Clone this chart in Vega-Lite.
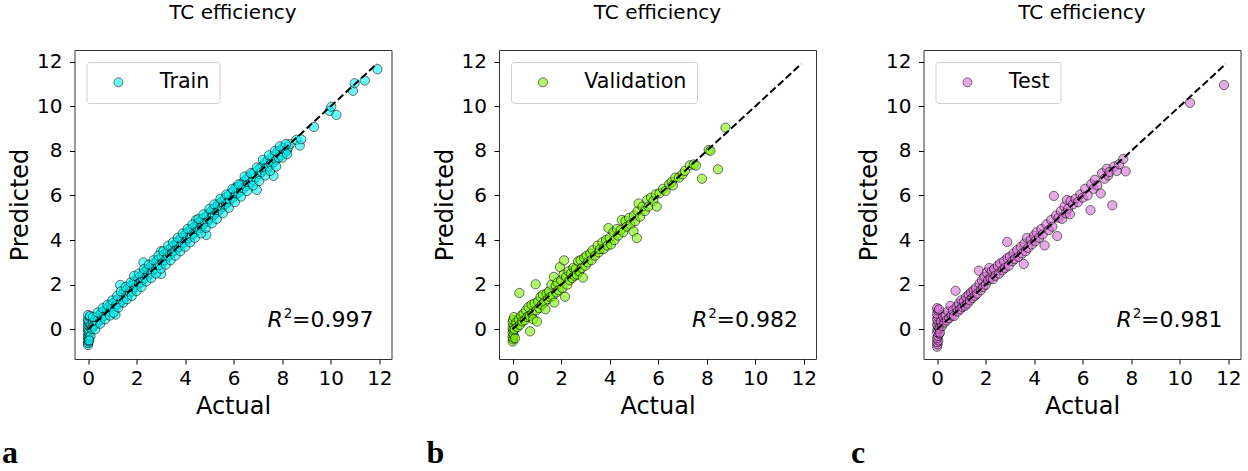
{
"$schema": "https://vega.github.io/schema/vega-lite/v6.json",
"background": "white",
"padding": {"left": 0.5, "top": 2, "right": 0, "bottom": 0},
"spacing": 31.5,
"config": {
  "font": "DejaVu Sans",
  "view": {"stroke": "#333333", "strokeWidth": 1},
  "axis": {"grid": false, "domain": false, "tickColor": "black", "tickSize": 5, "tickWidth": 1, "labelFont": "DejaVu Sans", "labelFontSize": 20, "labelColor": "black", "labelPadding": 4, "titleFont": "DejaVu Sans", "titleFontSize": 24, "titleFontWeight": "normal", "titleColor": "black", "labelFlush": false, "labelOverlap": false},
  "axisX": {"titlePadding": 6},
  "axisY": {"titlePadding": 4, "labelPadding": 7.5},
  "title": {"font": "DejaVu Sans", "fontSize": 20, "fontWeight": "normal", "color": "black", "offset": 27},
  "legend": {"orient": "top-left", "offset": 12, "padding": 10, "strokeColor": "#d0d0d0", "cornerRadius": 3, "fillColor": "white", "labelFont": "DejaVu Sans", "labelFontSize": 20.7, "labelColor": "black", "symbolSize": 80, "symbolOpacity": 0.6, "symbolStrokeColor": "black", "symbolStrokeWidth": 1, "symbolType": "circle", "symbolOffset": 11.6, "labelOffset": 31, "title": null}
},
"resolve": {"scale": {"color": "independent"}, "legend": {"color": "independent"}},
"datasets": {
"diag": [{"a": 0, "p": 0}, {"a": 11.9, "p": 11.9}],
"train": [
{"a":0,"p":-0.7},{"a":0,"p":-0.62},{"a":0.02,"p":-0.55},{"a":0,"p":-0.48},{"a":0.03,"p":-0.4},{"a":0,"p":-0.33},{"a":0.01,"p":-0.25},{"a":0.04,"p":-0.18},{"a":0,"p":-0.1},{"a":0.02,"p":-0.04},{"a":0,"p":0.05},{"a":0.05,"p":0.12},{"a":0,"p":0.2},{"a":0.03,"p":0.28},{"a":0.01,"p":0.36},{"a":0,"p":0.45},{"a":0.06,"p":0.55},{"a":0,"p":0.64},{"a":0.08,"p":0.6},{"a":0.1,"p":-0.3},{"a":0.05,"p":-0.5},
{"a":0.12,"p":0.18},{"a":0.15,"p":0.02},{"a":0.2,"p":0.35},{"a":0.22,"p":0.15},{"a":0.28,"p":0.4},{"a":0.3,"p":0.22},{"a":0.35,"p":0.55},{"a":0.38,"p":0.3},{"a":0.42,"p":0.48},{"a":0.45,"p":0.62},{"a":0.5,"p":0.42},{"a":0.52,"p":0.7},{"a":0.58,"p":0.55},{"a":0.6,"p":0.78},{"a":0.65,"p":0.6},{"a":0.7,"p":0.85},{"a":0.72,"p":0.66},{"a":0.78,"p":0.9},{"a":0.8,"p":0.72},{"a":0.85,"p":1.02},{"a":0.88,"p":0.8},{"a":0.92,"p":1.1},{"a":0.95,"p":0.9},{"a":1.0,"p":1.15},{"a":1.02,"p":0.95},{"a":1.08,"p":1.22},{"a":1.1,"p":1.02},{"a":1.13,"p":0.66},{"a":1.18,"p":1.3},{"a":1.22,"p":1.12},{"a":1.28,"p":1.4},{"a":1.3,"p":1.2},{"a":1.32,"p":1.99},{"a":1.38,"p":1.5},{"a":1.4,"p":1.3},{"a":1.45,"p":1.62},{"a":1.5,"p":1.42},{"a":1.55,"p":1.7},{"a":1.58,"p":1.5},{"a":1.62,"p":1.8},{"a":1.65,"p":1.58},{"a":1.7,"p":1.88},{"a":1.72,"p":1.65},{"a":1.78,"p":1.95},{"a":1.8,"p":1.72},{"a":1.85,"p":2.05},{"a":1.88,"p":1.82},{"a":1.92,"p":2.18},{"a":1.95,"p":1.9},{"a":2.0,"p":2.2},{"a":2.02,"p":1.98},{"a":2.08,"p":2.3},{"a":2.1,"p":2.05},{"a":2.15,"p":2.38},{"a":2.18,"p":2.12},{"a":2.22,"p":2.45},{"a":2.25,"p":2.2},{"a":2.28,"p":3.0},{"a":2.3,"p":2.55},{"a":2.35,"p":2.3},{"a":2.4,"p":2.62},{"a":2.42,"p":2.4},{"a":2.48,"p":2.7},{"a":2.5,"p":2.45},{"a":2.55,"p":2.78},{"a":2.58,"p":2.55},{"a":2.62,"p":2.85},{"a":2.65,"p":2.62},{"a":2.7,"p":2.92},{"a":2.72,"p":2.7},{"a":2.78,"p":3.0},{"a":2.8,"p":2.75},{"a":2.85,"p":3.1},{"a":2.88,"p":2.85},{"a":2.92,"p":3.15},{"a":2.95,"p":2.9},{"a":3.0,"p":3.5},{"a":3.01,"p":2.48},{"a":3.05,"p":3.25},{"a":3.08,"p":3.0},{"a":3.12,"p":3.35},{"a":3.15,"p":3.1},{"a":3.2,"p":3.42},{"a":3.22,"p":3.18},{"a":3.28,"p":3.5},{"a":3.3,"p":3.28},{"a":3.35,"p":3.6},{"a":3.38,"p":3.35},{"a":3.42,"p":3.65},{"a":3.45,"p":3.42},{"a":3.5,"p":3.72},{"a":3.52,"p":3.5},{"a":3.58,"p":3.8},{"a":3.6,"p":3.55},{"a":3.65,"p":3.9},{"a":3.68,"p":3.62},{"a":3.72,"p":3.95},{"a":3.75,"p":3.7},{"a":3.8,"p":4.05},{"a":3.82,"p":3.78},{"a":3.88,"p":4.12},{"a":3.9,"p":3.85},{"a":3.95,"p":4.2},{"a":3.98,"p":3.92},{"a":4.02,"p":4.28},{"a":4.05,"p":4.0},{"a":4.1,"p":4.35},{"a":4.12,"p":4.08},{"a":4.18,"p":4.42},{"a":4.2,"p":4.15},{"a":4.25,"p":4.5},{"a":4.28,"p":4.22},{"a":4.32,"p":4.55},{"a":4.35,"p":4.3},{"a":4.4,"p":4.62},{"a":4.42,"p":4.38},{"a":4.45,"p":4.9},{"a":4.5,"p":4.7},{"a":4.52,"p":4.45},{"a":4.58,"p":4.8},{"a":4.6,"p":4.55},{"a":4.65,"p":4.88},{"a":4.68,"p":4.62},{"a":4.72,"p":4.95},{"a":4.75,"p":4.7},{"a":4.8,"p":5.02},{"a":4.82,"p":4.78},{"a":4.87,"p":4.23},{"a":4.9,"p":5.1},{"a":4.92,"p":4.85},{"a":4.98,"p":5.2},{"a":5.0,"p":4.95},{"a":5.05,"p":5.28},{"a":5.08,"p":5.02},{"a":5.12,"p":5.35},{"a":5.15,"p":5.1},{"a":5.2,"p":5.42},{"a":5.22,"p":5.18},{"a":5.28,"p":5.5},{"a":5.3,"p":5.25},{"a":5.35,"p":5.58},{"a":5.38,"p":5.32},{"a":5.42,"p":5.65},{"a":5.45,"p":5.4},{"a":5.5,"p":5.72},{"a":5.52,"p":5.48},{"a":5.58,"p":5.8},{"a":5.6,"p":5.55},{"a":5.65,"p":5.88},{"a":5.68,"p":5.62},{"a":5.72,"p":5.95},{"a":5.75,"p":5.7},{"a":5.8,"p":6.02},{"a":5.85,"p":5.78},{"a":5.9,"p":6.1},{"a":5.95,"p":5.88},{"a":6.0,"p":6.2},{"a":6.02,"p":5.95},{"a":6.08,"p":6.35},{"a":6.1,"p":6.05},{"a":6.15,"p":6.38},{"a":6.2,"p":6.12},{"a":6.25,"p":6.45},{"a":6.3,"p":6.22},{"a":6.35,"p":6.55},{"a":6.4,"p":6.32},{"a":6.45,"p":6.65},{"a":6.5,"p":6.42},{"a":6.55,"p":6.78},{"a":6.6,"p":6.5},{"a":6.65,"p":6.85},{"a":6.7,"p":6.6},{"a":6.75,"p":6.95},{"a":6.8,"p":6.7},{"a":6.85,"p":7.02},{"a":6.9,"p":6.8},{"a":6.95,"p":6.25},{"a":7.0,"p":7.15},{"a":7.05,"p":6.95},{"a":7.1,"p":7.25},{"a":7.15,"p":7.05},{"a":7.2,"p":7.35},{"a":7.25,"p":7.12},{"a":7.3,"p":7.48},{"a":7.35,"p":7.2},{"a":7.4,"p":7.55},{"a":7.45,"p":7.3},{"a":7.5,"p":7.6},{"a":7.55,"p":7.4},{"a":7.64,"p":6.88},{"a":7.6,"p":7.75},{"a":7.65,"p":7.5},{"a":7.7,"p":7.82},{"a":7.75,"p":7.6},{"a":7.8,"p":7.95},{"a":7.85,"p":7.7},{"a":7.9,"p":8.0},{"a":7.95,"p":7.8},{"a":8.0,"p":8.1},{"a":8.05,"p":7.9},{"a":8.1,"p":8.15},{"a":8.15,"p":7.95},{"a":8.2,"p":8.05},{"a":8.25,"p":8.15},{"a":8.3,"p":8.3},{"a":8.58,"p":8.49},{"a":8.72,"p":8.24},{"a":8.78,"p":8.52},{"a":9.31,"p":9.07},{"a":9.95,"p":9.79},{"a":10.02,"p":9.98},{"a":10.23,"p":9.61},{"a":10.91,"p":10.69},{"a":10.98,"p":11.03},{"a":11.4,"p":11.15},{"a":11.92,"p":11.66},
{"a":0.2,"p":0.55},{"a":0.3,"p":0.0},{"a":0.4,"p":0.75},{"a":0.5,"p":0.25},{"a":0.6,"p":0.95},{"a":0.7,"p":0.45},{"a":0.8,"p":1.1},{"a":0.9,"p":0.62},{"a":1.0,"p":1.3},{"a":1.05,"p":0.75},{"a":1.2,"p":1.5},{"a":1.25,"p":0.98},{"a":1.35,"p":1.7},{"a":1.45,"p":1.2},{"a":1.55,"p":1.9},{"a":1.6,"p":1.35},{"a":1.75,"p":2.1},{"a":1.8,"p":1.5},{"a":1.9,"p":2.4},{"a":2.0,"p":1.72},{"a":2.1,"p":2.5},{"a":2.2,"p":1.9},{"a":2.3,"p":2.7},{"a":2.4,"p":2.15},{"a":2.5,"p":2.9},{"a":2.6,"p":2.3},{"a":2.7,"p":3.1},{"a":2.8,"p":2.5},{"a":2.9,"p":3.3},{"a":3.0,"p":2.72},{"a":3.1,"p":3.5},{"a":3.2,"p":2.9},{"a":3.3,"p":3.75},{"a":3.4,"p":3.1},{"a":3.5,"p":3.9},{"a":3.6,"p":3.3},{"a":3.7,"p":4.1},{"a":3.8,"p":3.5},{"a":3.9,"p":4.3},{"a":4.0,"p":3.7},{"a":4.1,"p":4.5},{"a":4.2,"p":3.9},{"a":4.3,"p":4.7},{"a":4.4,"p":4.1},{"a":4.55,"p":4.95},{"a":4.65,"p":4.3},{"a":4.75,"p":5.15},{"a":4.85,"p":4.55},{"a":5.0,"p":5.4},{"a":5.1,"p":4.75},{"a":5.2,"p":5.6},{"a":5.3,"p":4.95},{"a":5.45,"p":5.85},{"a":5.55,"p":5.2},{"a":5.7,"p":6.05},{"a":5.8,"p":5.45},{"a":5.95,"p":6.3},{"a":6.05,"p":5.7},{"a":6.2,"p":6.5},{"a":6.3,"p":5.95},{"a":6.45,"p":6.85},{"a":6.55,"p":6.2},{"a":6.7,"p":7.0},{"a":6.8,"p":6.45},{"a":6.95,"p":7.25},{"a":7.05,"p":6.65},{"a":7.2,"p":7.6},{"a":7.3,"p":6.9},{"a":7.45,"p":7.8},{"a":7.5,"p":7.1},{"a":7.7,"p":8.0},{"a":7.75,"p":7.3},{"a":7.9,"p":8.2},{"a":8.0,"p":7.7},{"a":8.15,"p":8.3},{"a":8.2,"p":7.85}
],
"val": [
{"a":0,"p":-0.55},{"a":0.02,"p":-0.45},{"a":0,"p":-0.35},{"a":0.04,"p":-0.25},{"a":0,"p":-0.15},{"a":0.03,"p":-0.05},{"a":0,"p":0.08},{"a":0.05,"p":0.18},{"a":0,"p":0.3},{"a":0.02,"p":0.42},{"a":0.06,"p":0.55},{"a":0.1,"p":-0.4},{"a":0.08,"p":0.0},
{"a":0.15,"p":0.3},{"a":0.2,"p":0.1},{"a":0.25,"p":0.45},{"a":0.28,"p":1.63},{"a":0.3,"p":0.2},{"a":0.35,"p":0.6},{"a":0.4,"p":0.35},{"a":0.45,"p":0.7},{"a":0.5,"p":0.4},{"a":0.55,"p":0.85},{"a":0.6,"p":0.55},{"a":0.65,"p":1.0},{"a":0.7,"p":0.6},{"a":0.72,"p":-0.09},{"a":0.78,"p":1.1},{"a":0.8,"p":0.7},{"a":0.85,"p":0.45},{"a":0.9,"p":1.15},{"a":0.95,"p":2.02},{"a":0.98,"p":0.85},{"a":1.0,"p":0.35},{"a":1.05,"p":1.25},{"a":1.1,"p":0.95},{"a":1.15,"p":1.45},{"a":1.2,"p":1.1},{"a":1.25,"p":1.55},{"a":1.3,"p":1.2},{"a":1.35,"p":0.9},{"a":1.4,"p":1.6},{"a":1.45,"p":1.35},{"a":1.5,"p":1.7},{"a":1.55,"p":1.45},{"a":1.6,"p":2.0},{"a":1.65,"p":1.5},{"a":1.7,"p":2.35},{"a":1.72,"p":1.2},{"a":1.78,"p":1.95},{"a":1.8,"p":1.65},{"a":1.85,"p":2.1},{"a":1.9,"p":1.75},{"a":1.95,"p":2.79},{"a":2.0,"p":2.2},{"a":2.05,"p":1.85},{"a":2.1,"p":2.45},{"a":2.12,"p":3.09},{"a":2.16,"p":1.46},{"a":2.2,"p":2.35},{"a":2.25,"p":2.0},{"a":2.3,"p":2.6},{"a":2.35,"p":2.2},{"a":2.4,"p":2.5},{"a":2.45,"p":2.3},{"a":2.5,"p":2.75},{"a":2.55,"p":2.4},{"a":2.6,"p":2.7},{"a":2.65,"p":2.45},{"a":2.7,"p":3.05},{"a":2.75,"p":2.6},{"a":2.8,"p":3.1},{"a":2.85,"p":2.75},{"a":2.89,"p":2.32},{"a":2.95,"p":3.2},{"a":3.0,"p":2.85},{"a":3.05,"p":3.3},{"a":3.1,"p":3.0},{"a":3.2,"p":3.4},{"a":3.25,"p":3.1},{"a":3.3,"p":3.55},{"a":3.4,"p":3.3},{"a":3.5,"p":3.75},{"a":3.55,"p":3.45},{"a":3.6,"p":3.6},{"a":3.7,"p":3.9},{"a":3.75,"p":3.6},{"a":3.85,"p":4.0},{"a":3.9,"p":3.75},{"a":3.95,"p":4.54},{"a":4.0,"p":4.1},{"a":4.05,"p":3.8},{"a":4.15,"p":4.35},{"a":4.2,"p":4.0},{"a":4.3,"p":4.5},{"a":4.35,"p":4.2},{"a":4.45,"p":4.45},{"a":4.5,"p":4.9},{"a":4.55,"p":4.35},{"a":4.65,"p":4.85},{"a":4.7,"p":4.6},{"a":4.8,"p":5.0},{"a":4.85,"p":4.7},{"a":4.98,"p":4.39},{"a":5.0,"p":5.1},{"a":5.05,"p":4.85},{"a":5.12,"p":4.09},{"a":5.15,"p":5.3},{"a":5.19,"p":5.64},{"a":5.25,"p":5.05},{"a":5.35,"p":5.5},{"a":5.45,"p":5.3},{"a":5.55,"p":5.8},{"a":5.6,"p":5.5},{"a":5.7,"p":5.9},{"a":5.8,"p":5.75},{"a":5.9,"p":6.05},{"a":5.94,"p":5.5},{"a":6.05,"p":6.1},{"a":6.2,"p":6.3},{"a":6.3,"p":6.2},{"a":6.45,"p":6.5},{"a":6.55,"p":6.6},{"a":6.6,"p":6.45},{"a":6.7,"p":6.8},{"a":6.85,"p":6.8},{"a":7.0,"p":6.95},{"a":7.1,"p":7.1},{"a":7.3,"p":7.35},{"a":7.46,"p":7.39},{"a":7.55,"p":7.34},{"a":7.8,"p":6.75},{"a":8.08,"p":8.04},{"a":8.15,"p":8.0},{"a":8.46,"p":7.17},{"a":8.77,"p":9.04}
],
"test": [
{"a":0,"p":-0.78},{"a":0.02,"p":-0.68},{"a":0,"p":-0.58},{"a":0.05,"p":-0.5},{"a":0,"p":-0.4},{"a":0.03,"p":-0.3},{"a":0.08,"p":-0.2},{"a":0,"p":-0.12},{"a":0.02,"p":0.0},{"a":0.06,"p":0.1},{"a":0,"p":0.2},{"a":0.04,"p":0.32},{"a":0,"p":0.45},{"a":0.02,"p":0.58},{"a":0,"p":0.7},{"a":0.03,"p":0.85},{"a":0,"p":0.95},{"a":0.08,"p":0.9},{"a":0.1,"p":0.05},{"a":0.12,"p":-0.15},
{"a":0.15,"p":0.35},{"a":0.2,"p":0.15},{"a":0.25,"p":0.55},{"a":0.3,"p":0.3},{"a":0.35,"p":0.62},{"a":0.4,"p":0.4},{"a":0.45,"p":0.8},{"a":0.5,"p":0.5},{"a":0.55,"p":1.05},{"a":0.6,"p":0.62},{"a":0.65,"p":0.85},{"a":0.7,"p":0.6},{"a":0.76,"p":1.73},{"a":0.8,"p":1.0},{"a":0.85,"p":0.8},{"a":0.9,"p":1.15},{"a":0.95,"p":0.9},{"a":1.0,"p":1.3},{"a":1.05,"p":1.0},{"a":1.1,"p":1.25},{"a":1.15,"p":1.05},{"a":1.2,"p":1.45},{"a":1.25,"p":1.15},{"a":1.3,"p":1.55},{"a":1.35,"p":1.3},{"a":1.4,"p":1.65},{"a":1.45,"p":1.4},{"a":1.5,"p":1.75},{"a":1.55,"p":1.5},{"a":1.6,"p":1.85},{"a":1.65,"p":1.6},{"a":1.72,"p":2.63},{"a":1.75,"p":2.05},{"a":1.8,"p":1.75},{"a":1.85,"p":2.2},{"a":1.9,"p":1.9},{"a":1.95,"p":2.35},{"a":2.0,"p":2.0},{"a":2.05,"p":2.55},{"a":2.1,"p":2.2},{"a":2.15,"p":2.75},{"a":2.2,"p":2.3},{"a":2.25,"p":2.6},{"a":2.3,"p":2.25},{"a":2.35,"p":2.7},{"a":2.4,"p":2.4},{"a":2.5,"p":2.85},{"a":2.55,"p":2.5},{"a":2.6,"p":2.95},{"a":2.7,"p":2.65},{"a":2.75,"p":3.05},{"a":2.8,"p":2.75},{"a":2.89,"p":3.92},{"a":2.9,"p":3.2},{"a":2.95,"p":2.85},{"a":3.0,"p":3.25},{"a":3.1,"p":3.05},{"a":3.15,"p":3.4},{"a":3.2,"p":3.15},{"a":3.3,"p":3.55},{"a":3.35,"p":3.25},{"a":3.45,"p":3.7},{"a":3.5,"p":3.4},{"a":3.57,"p":2.93},{"a":3.6,"p":3.85},{"a":3.65,"p":3.5},{"a":3.7,"p":4.1},{"a":3.75,"p":3.65},{"a":3.85,"p":4.0},{"a":3.9,"p":3.8},{"a":4.0,"p":4.2},{"a":4.05,"p":3.95},{"a":4.1,"p":4.35},{"a":4.2,"p":4.1},{"a":4.3,"p":4.5},{"a":4.35,"p":4.25},{"a":4.43,"p":3.76},{"a":4.5,"p":4.7},{"a":4.6,"p":4.45},{"a":4.7,"p":4.9},{"a":4.75,"p":4.6},{"a":4.81,"p":5.98},{"a":4.9,"p":5.1},{"a":4.95,"p":4.18},{"a":5.0,"p":5.0},{"a":5.1,"p":5.3},{"a":5.15,"p":4.95},{"a":5.25,"p":5.5},{"a":5.3,"p":5.2},{"a":5.35,"p":5.8},{"a":5.4,"p":5.4},{"a":5.47,"p":5.16},{"a":5.5,"p":5.75},{"a":5.6,"p":5.6},{"a":5.7,"p":5.85},{"a":5.8,"p":5.7},{"a":5.9,"p":6.05},{"a":6.0,"p":5.9},{"a":6.1,"p":6.3},{"a":6.2,"p":6.0},{"a":6.32,"p":5.34},{"a":6.35,"p":6.5},{"a":6.45,"p":6.3},{"a":6.5,"p":6.7},{"a":6.6,"p":6.45},{"a":6.74,"p":6.09},{"a":6.8,"p":7.0},{"a":6.9,"p":6.75},{"a":7.0,"p":7.2},{"a":7.05,"p":6.9},{"a":7.1,"p":7.05},{"a":7.22,"p":5.56},{"a":7.3,"p":7.3},{"a":7.4,"p":7.1},{"a":7.5,"p":7.4},{"a":7.67,"p":7.64},{"a":7.77,"p":7.08},{"a":10.42,"p":10.15},{"a":11.82,"p":10.95}
]
},
"hconcat": [
{
  "width": 317, "height": 309,
  "title": "TC efficiency",
  "layer": [
    {"data": {"name": "train"}, "mark": {"type": "circle", "size": 85, "opacity": 0.6, "stroke": "black", "strokeWidth": 1},
     "encoding": {
       "x": {"field": "a", "type": "quantitative", "title": "Actual", "scale": {"domain": [-0.56, 12.5], "nice": false, "zero": false}, "axis": {"values": [0, 2, 4, 6, 8, 10, 12]}},
       "y": {"field": "p", "type": "quantitative", "title": "Predicted", "scale": {"domain": [-1.33, 12.52], "nice": false, "zero": false}, "axis": {"values": [0, 2, 4, 6, 8, 10, 12]}},
       "color": {"datum": "Train", "type": "nominal", "scale": {"range": ["#00ffff"]}, "legend": {"title": null}}
     }},
    {"data": {"name": "diag"}, "mark": {"type": "line", "color": "black", "strokeWidth": 2, "strokeDash": [7.4, 3.2]},
     "encoding": {"x": {"field": "a", "type": "quantitative", "title": "Actual"}, "y": {"field": "p", "type": "quantitative", "title": "Predicted"}}},
    {"data": {"values": [{}]}, "mark": {"type": "text", "text": "R", "fontSize": 22, "fontStyle": "italic", "align": "right", "baseline": "alphabetic", "color": "black"},
     "encoding": {"x": {"datum": 8.02, "type": "quantitative", "title": "Actual"}, "y": {"datum": 0.12, "type": "quantitative", "title": "Predicted"}}},
    {"data": {"values": [{}]}, "mark": {"type": "text", "text": "2", "fontSize": 13.5, "align": "left", "baseline": "alphabetic", "dx": 1, "dy": -9, "color": "black"},
     "encoding": {"x": {"datum": 8.02, "type": "quantitative", "title": "Actual"}, "y": {"datum": 0.12, "type": "quantitative", "title": "Predicted"}}},
    {"data": {"values": [{}]}, "mark": {"type": "text", "text": "=0.997", "fontSize": 22, "align": "left", "baseline": "alphabetic", "color": "black"},
     "encoding": {"x": {"datum": 8.4, "type": "quantitative", "title": "Actual"}, "y": {"datum": 0.12, "type": "quantitative", "title": "Predicted"}}},
    {"data": {"values": [{}]}, "mark": {"type": "text", "text": "a", "font": "Liberation Serif", "fontSize": 32, "fontWeight": "bold", "align": "left", "baseline": "alphabetic", "color": "black"},
     "encoding": {"x": {"datum": -3.55, "type": "quantitative", "title": "Actual"}, "y": {"datum": -5.98, "type": "quantitative", "title": "Predicted"}}}
  ]
},
{
  "width": 317, "height": 309,
  "title": "TC efficiency",
  "layer": [
    {"data": {"name": "val"}, "mark": {"type": "circle", "size": 85, "opacity": 0.6, "stroke": "black", "strokeWidth": 1},
     "encoding": {
       "x": {"field": "a", "type": "quantitative", "title": "Actual", "scale": {"domain": [-0.56, 12.5], "nice": false, "zero": false}, "axis": {"values": [0, 2, 4, 6, 8, 10, 12]}},
       "y": {"field": "p", "type": "quantitative", "title": "Predicted", "scale": {"domain": [-1.33, 12.52], "nice": false, "zero": false}, "axis": {"values": [0, 2, 4, 6, 8, 10, 12]}},
       "color": {"datum": "Validation", "type": "nominal", "scale": {"range": ["#7cfc00"]}, "legend": {"title": null}}
     }},
    {"data": {"name": "diag"}, "mark": {"type": "line", "color": "black", "strokeWidth": 2, "strokeDash": [7.4, 3.2]},
     "encoding": {"x": {"field": "a", "type": "quantitative", "title": "Actual"}, "y": {"field": "p", "type": "quantitative", "title": "Predicted"}}},
    {"data": {"values": [{}]}, "mark": {"type": "text", "text": "R", "fontSize": 22, "fontStyle": "italic", "align": "right", "baseline": "alphabetic", "color": "black"},
     "encoding": {"x": {"datum": 8.02, "type": "quantitative", "title": "Actual"}, "y": {"datum": 0.12, "type": "quantitative", "title": "Predicted"}}},
    {"data": {"values": [{}]}, "mark": {"type": "text", "text": "2", "fontSize": 13.5, "align": "left", "baseline": "alphabetic", "dx": 1, "dy": -9, "color": "black"},
     "encoding": {"x": {"datum": 8.02, "type": "quantitative", "title": "Actual"}, "y": {"datum": 0.12, "type": "quantitative", "title": "Predicted"}}},
    {"data": {"values": [{}]}, "mark": {"type": "text", "text": "=0.982", "fontSize": 22, "align": "left", "baseline": "alphabetic", "color": "black"},
     "encoding": {"x": {"datum": 8.4, "type": "quantitative", "title": "Actual"}, "y": {"datum": 0.12, "type": "quantitative", "title": "Predicted"}}},
    {"data": {"values": [{}]}, "mark": {"type": "text", "text": "b", "font": "Liberation Serif", "fontSize": 32, "fontWeight": "bold", "align": "left", "baseline": "alphabetic", "color": "black"},
     "encoding": {"x": {"datum": -3.55, "type": "quantitative", "title": "Actual"}, "y": {"datum": -5.98, "type": "quantitative", "title": "Predicted"}}}
  ]
},
{
  "width": 317, "height": 309,
  "title": "TC efficiency",
  "layer": [
    {"data": {"name": "test"}, "mark": {"type": "circle", "size": 85, "opacity": 0.6, "stroke": "black", "strokeWidth": 1},
     "encoding": {
       "x": {"field": "a", "type": "quantitative", "title": "Actual", "scale": {"domain": [-0.56, 12.5], "nice": false, "zero": false}, "axis": {"values": [0, 2, 4, 6, 8, 10, 12]}},
       "y": {"field": "p", "type": "quantitative", "title": "Predicted", "scale": {"domain": [-1.33, 12.52], "nice": false, "zero": false}, "axis": {"values": [0, 2, 4, 6, 8, 10, 12]}},
       "color": {"datum": "Test", "type": "nominal", "scale": {"range": ["#da70d6"]}, "legend": {"title": null}}
     }},
    {"data": {"name": "diag"}, "mark": {"type": "line", "color": "black", "strokeWidth": 2, "strokeDash": [7.4, 3.2]},
     "encoding": {"x": {"field": "a", "type": "quantitative", "title": "Actual"}, "y": {"field": "p", "type": "quantitative", "title": "Predicted"}}},
    {"data": {"values": [{}]}, "mark": {"type": "text", "text": "R", "fontSize": 22, "fontStyle": "italic", "align": "right", "baseline": "alphabetic", "color": "black"},
     "encoding": {"x": {"datum": 8.02, "type": "quantitative", "title": "Actual"}, "y": {"datum": 0.12, "type": "quantitative", "title": "Predicted"}}},
    {"data": {"values": [{}]}, "mark": {"type": "text", "text": "2", "fontSize": 13.5, "align": "left", "baseline": "alphabetic", "dx": 1, "dy": -9, "color": "black"},
     "encoding": {"x": {"datum": 8.02, "type": "quantitative", "title": "Actual"}, "y": {"datum": 0.12, "type": "quantitative", "title": "Predicted"}}},
    {"data": {"values": [{}]}, "mark": {"type": "text", "text": "=0.981", "fontSize": 22, "align": "left", "baseline": "alphabetic", "color": "black"},
     "encoding": {"x": {"datum": 8.4, "type": "quantitative", "title": "Actual"}, "y": {"datum": 0.12, "type": "quantitative", "title": "Predicted"}}},
    {"data": {"values": [{}]}, "mark": {"type": "text", "text": "c", "font": "Liberation Serif", "fontSize": 32, "fontWeight": "bold", "align": "left", "baseline": "alphabetic", "color": "black"},
     "encoding": {"x": {"datum": -3.55, "type": "quantitative", "title": "Actual"}, "y": {"datum": -5.98, "type": "quantitative", "title": "Predicted"}}}
  ]
}
]
}
